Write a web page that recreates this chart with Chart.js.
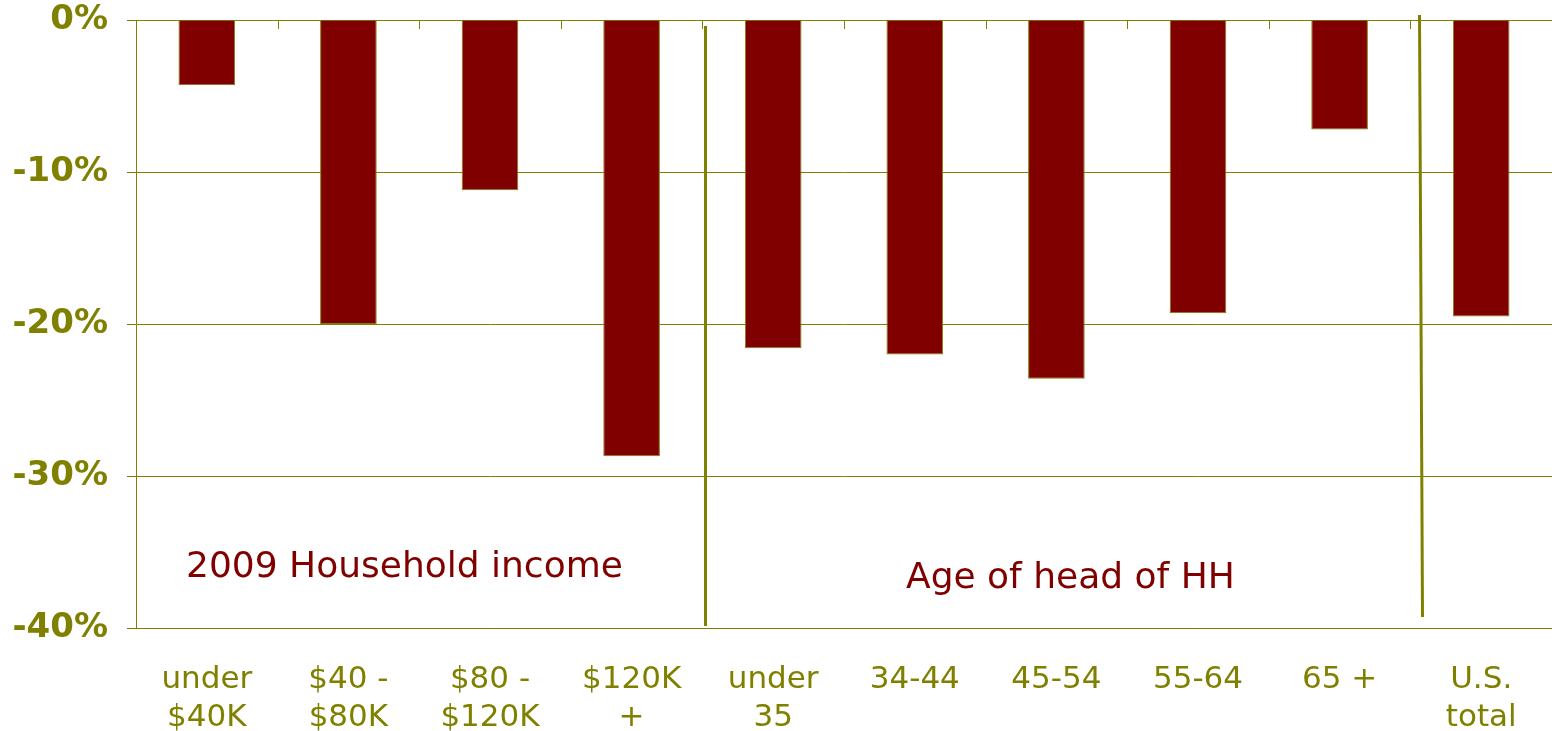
<!DOCTYPE html>
<html>
<head>
<meta charset="utf-8">
<script src="https://cdn.jsdelivr.net/npm/chart.js@4/dist/chart.umd.min.js"></script>
<style>
  body { margin: 0; background: #fff; }
  #wrap { width: 1552px; height: 731px; }
</style>
</head>
<body>
<div id="wrap"><canvas id="spendChart" width="1552" height="731"></canvas></div>
<script>
// categories and values
const categories = [
    ['under', '$40K'], ['$40 -', '$80K'], ['$80 -', '$120K'], ['$120K', '+'],
    ['under', '35'], '34-44', '45-54', '55-64', '65 +', ['U.S.', 'total']
];
const changeValues = [-4.3, -20.0, -11.2, -28.7, -21.6, -22.0, -23.6, -19.3, -7.2, -19.5];
const yTicks = [0, -10, -20, -30, -40];

const olive = '#808000';
const maroon = '#800000';

// group labels + separators drawn on top
const extras = {
    id: 'extras',
    afterDraw(chart) {
        const c = chart.ctx;
        const x = chart.scales.x;
        const y = chart.scales.y;
        const zero = y.getPixelForValue(0);
        c.save();
        // small category ticks under the zero line
        c.strokeStyle = olive;
        c.lineWidth = 1;
        for (let i = 1; i < categories.length; i++) {
            const px = Math.round((x.getPixelForValue(i - 1) + x.getPixelForValue(i)) / 2) + 0.5;
            c.beginPath();
            c.moveTo(px, zero);
            c.lineTo(px, zero + 9);
            c.stroke();
        }
        // separators between groups
        c.lineWidth = 3;
        c.beginPath();
        c.moveTo(705.5, 26);
        c.lineTo(705.5, 626);
        c.stroke();
        c.beginPath();
        c.moveTo(1419.5, 15);
        c.lineTo(1422.5, 617);
        c.stroke();
        // group captions
        c.fillStyle = maroon;
        c.font = '36px "DejaVu Sans"';
        c.textBaseline = 'alphabetic';
        c.textAlign = 'left';
        c.fillText('2009 Household income', 186, 577);
        c.fillText('Age of head of HH', 906, 588);
        c.restore();
    }
};

const ctx = document.getElementById('spendChart').getContext('2d');
new Chart(ctx, {
    type: 'bar',
    data: {
        labels: categories,
        datasets: [{
            data: changeValues,
            backgroundColor: maroon,
            borderColor: olive,
            borderWidth: 1,
            barPercentage: 0.4,
            categoryPercentage: 1.0
        }]
    },
    options: {
        responsive: false,
        animation: false,
        layout: { padding: { top: 20, right: 0, bottom: 0, left: 0 } },
        plugins: {
            legend: { display: false },
            tooltip: { enabled: false }
        },
        scales: {
            x: {
                grid: { display: false, drawTicks: false },
                border: { display: true, color: olive, width: 1 },
                ticks: {
                    color: olive,
                    padding: 33,
                    maxRotation: 0,
                    autoSkip: false,
                    font: { family: 'DejaVu Sans', size: 31, lineHeight: 1.226 }
                },
                afterFit(scale) { scale.height = 103; }
            },
            y: {
                min: -40,
                max: 0,
                afterBuildTicks(scale) {
                    scale.ticks = yTicks.map(v => ({ value: v }));
                },
                grid: { color: olive, lineWidth: 1, tickLength: 9 },
                border: { display: true, color: olive, width: 1 },
                ticks: {
                    color: olive,
                    padding: 19,
                    font: { family: 'DejaVu Sans', size: 34, weight: 'bold', lineHeight: 1.2 },
                    callback: v => v + '%'
                },
                afterFit(scale) {
                    scale.width = 136;
                    scale.paddingTop = 0;
                    scale.paddingBottom = 0;
                }
            }
        }
    },
    plugins: [extras]
});
</script>
</body>
</html>
